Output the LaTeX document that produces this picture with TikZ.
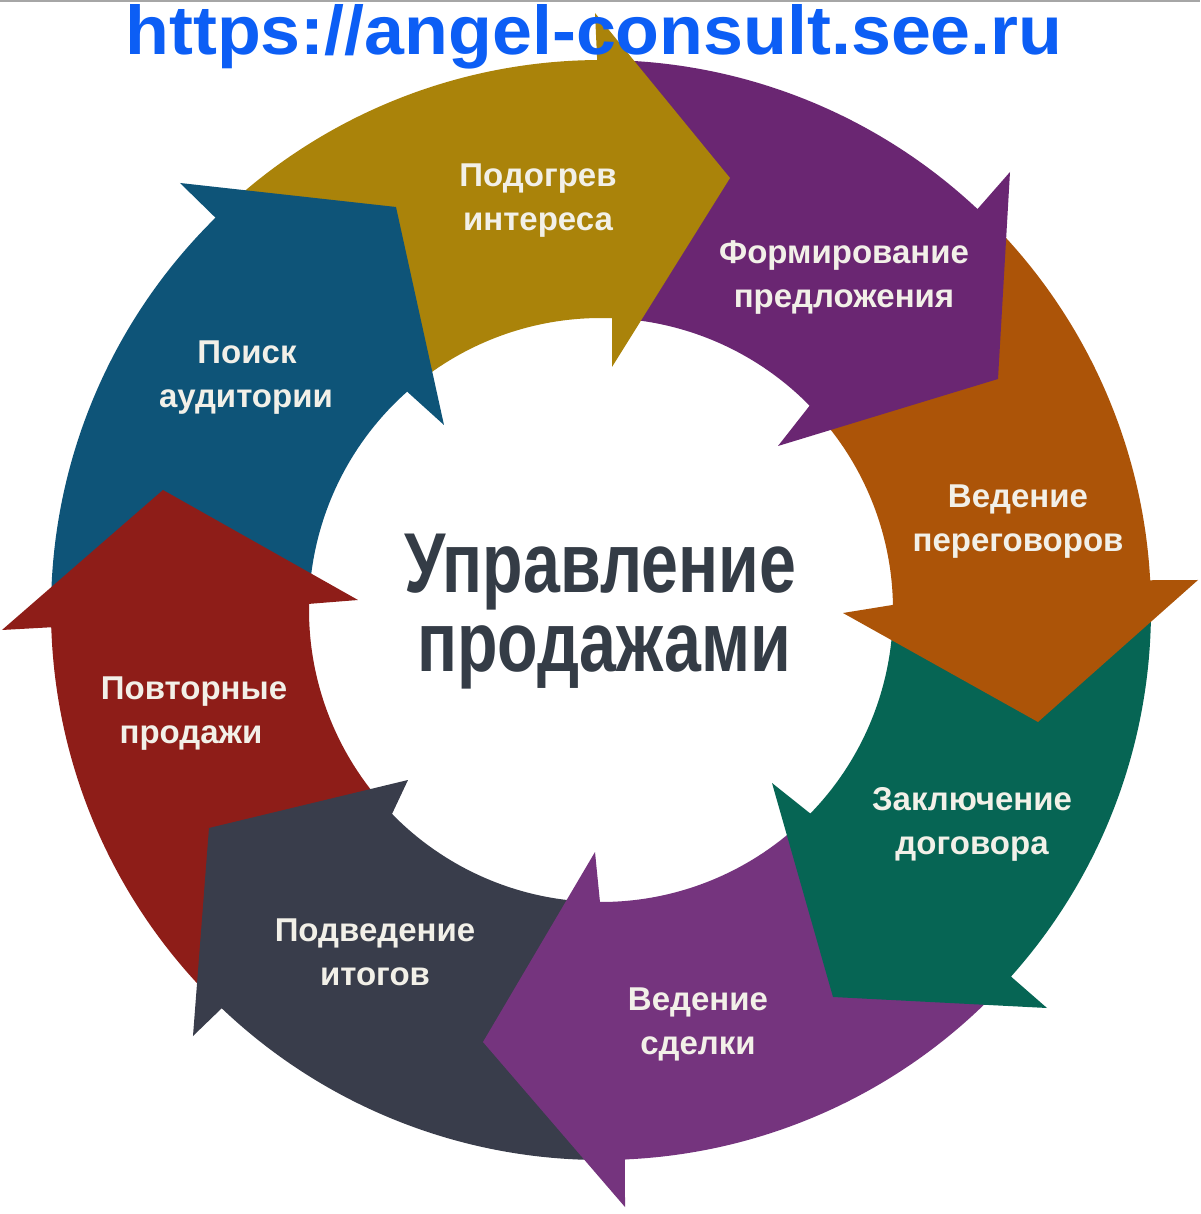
\documentclass[tikz,border=0pt]{standalone}
\usepackage{graphicx}
\usepackage{fontspec}
\setmainfont{Liberation Sans}
\definecolor{segBlue}{RGB}{14,84,120}
\definecolor{segOlive}{RGB}{170,131,10}
\definecolor{segPurpleA}{RGB}{106,38,114}
\definecolor{segOrange}{RGB}{172,84,8}
\definecolor{segGreen}{RGB}{6,101,84}
\definecolor{segPurpleB}{RGB}{117,52,126}
\definecolor{segGray}{RGB}{57,61,75}
\definecolor{segRed}{RGB}{142,29,24}
\definecolor{centerText}{RGB}{52,60,70}
\definecolor{urlBlue}{RGB}{12,94,245}
\definecolor{labelText}{RGB}{242,240,232}
\newcommand\segbody[5]{\fill[#1] (#2:550pt) arc[start angle=#2,end angle=#3,radius=550pt] -- (#4:292pt) arc[start angle=#4,end angle=#5,radius=292pt] -- cycle;}
\newcommand\seghead[6]{\fill[#1] ({#2+5}:540pt) -- (#2:550pt) -- #4 -- #5 -- #6 -- (#3:292pt) -- ({#3+5}:302pt) -- cycle;}
\begin{document}
\begin{tikzpicture}[x=1pt,y=1pt,
  lbl/.style={text=labelText,font=\bfseries\fontsize{33}{44}\selectfont,anchor=base,inner sep=0pt},
  ctr/.style={text=centerText,font=\bfseries\fontsize{85}{85}\selectfont,anchor=base,inner sep=0pt},
  urlstyle/.style={text=urlBlue,font=\bfseries\fontsize{69}{69}\selectfont,anchor=base,inner sep=0pt}]
\useasboundingbox (-601,-604) rectangle (599,610);
\fill[white] (-601,-604) rectangle (599,610);
\draw[gray!70,line width=2pt] (-601,609) -- (599,609);
% ring bodies
\segbody{segBlue}{181.8}{134.5}{131.6}{178.8}
\segbody{segOlive}{134.5}{90.4}{87.8}{131.6}
\segbody{segPurpleA}{90.4}{46.8}{44.4}{87.8}
\segbody{segOrange}{46.8}{3.1}{1.0}{44.4}
\segbody{segGreen}{3.1}{-41.8}{-44.2}{1.0}
\segbody{segPurpleB}{-41.8}{-87.5}{-90.2}{-44.2}
\segbody{segGray}{-87.5}{-133.6}{-135.7}{-90.2}
\segbody{segRed}{-133.6}{-178.2}{-181.2}{-135.7}
% arrow heads
\seghead{segBlue}{134.5}{131.6}{(-421,427)}{(-205,403)}{(-157,185)}
\seghead{segOlive}{90.4}{87.8}{(-6,597)}{(129,432)}{(11,243)}
\seghead{segPurpleA}{46.8}{44.4}{(409,438)}{(397,231)}{(177,164)}
\seghead{segOrange}{3.1}{1.0}{(597,30)}{(437,-112)}{(242,-3)}
\seghead{segGreen}{-41.8}{-44.2}{(446,-398)}{(232,-387)}{(171,-173)}
\seghead{segPurpleB}{-87.5}{-90.2}{(24,-597)}{(-118,-432)}{(-6,-242)}
\seghead{segGray}{-133.6}{-135.7}{(-408,-426)}{(-392,-218)}{(-193,-170)}
\seghead{segRed}{-178.2}{-181.2}{(-599,-20)}{(-438,120)}{(-243,10)}
% url
\node[urlstyle] (url) at (-7,555) {\scalebox{1.04}[1]{https://angel-consult.see.ru}};
% centre
\node[ctr] (c1) at (-1,17) {\scalebox{0.78}[1]{Управление}};
\node[ctr] (c2) at (3,-62) {\scalebox{0.78}[1]{продажами}};
% labels
\node[lbl] (p1a) at (-354,246) {Поиск};
\node[lbl] (p1b) at (-355,202) {аудитории};
\node[lbl] (p2a) at (-63,423) {Подогрев};
\node[lbl] (p2b) at (-63,379) {интереса};
\node[lbl] (p3a) at (243,346) {Формирование};
\node[lbl] (p3b) at (243,302) {предложения};
\node[lbl] (p4a) at (417,102) {Ведение};
\node[lbl] (p4b) at (417,58) {переговоров};
\node[lbl] (p5a) at (371,-200) {Заключение};
\node[lbl] (p5b) at (371,-244) {договора};
\node[lbl] (p6a) at (97,-400) {Ведение};
\node[lbl] (p6b) at (97,-444) {сделки};
\node[lbl] (p7a) at (-226,-331) {Подведение};
\node[lbl] (p7b) at (-226,-375) {итогов};
\node[lbl] (p8a) at (-407,-90) {Повторные};
\node[lbl] (p8b) at (-410,-134) {продажи};
\end{tikzpicture}
\end{document}
